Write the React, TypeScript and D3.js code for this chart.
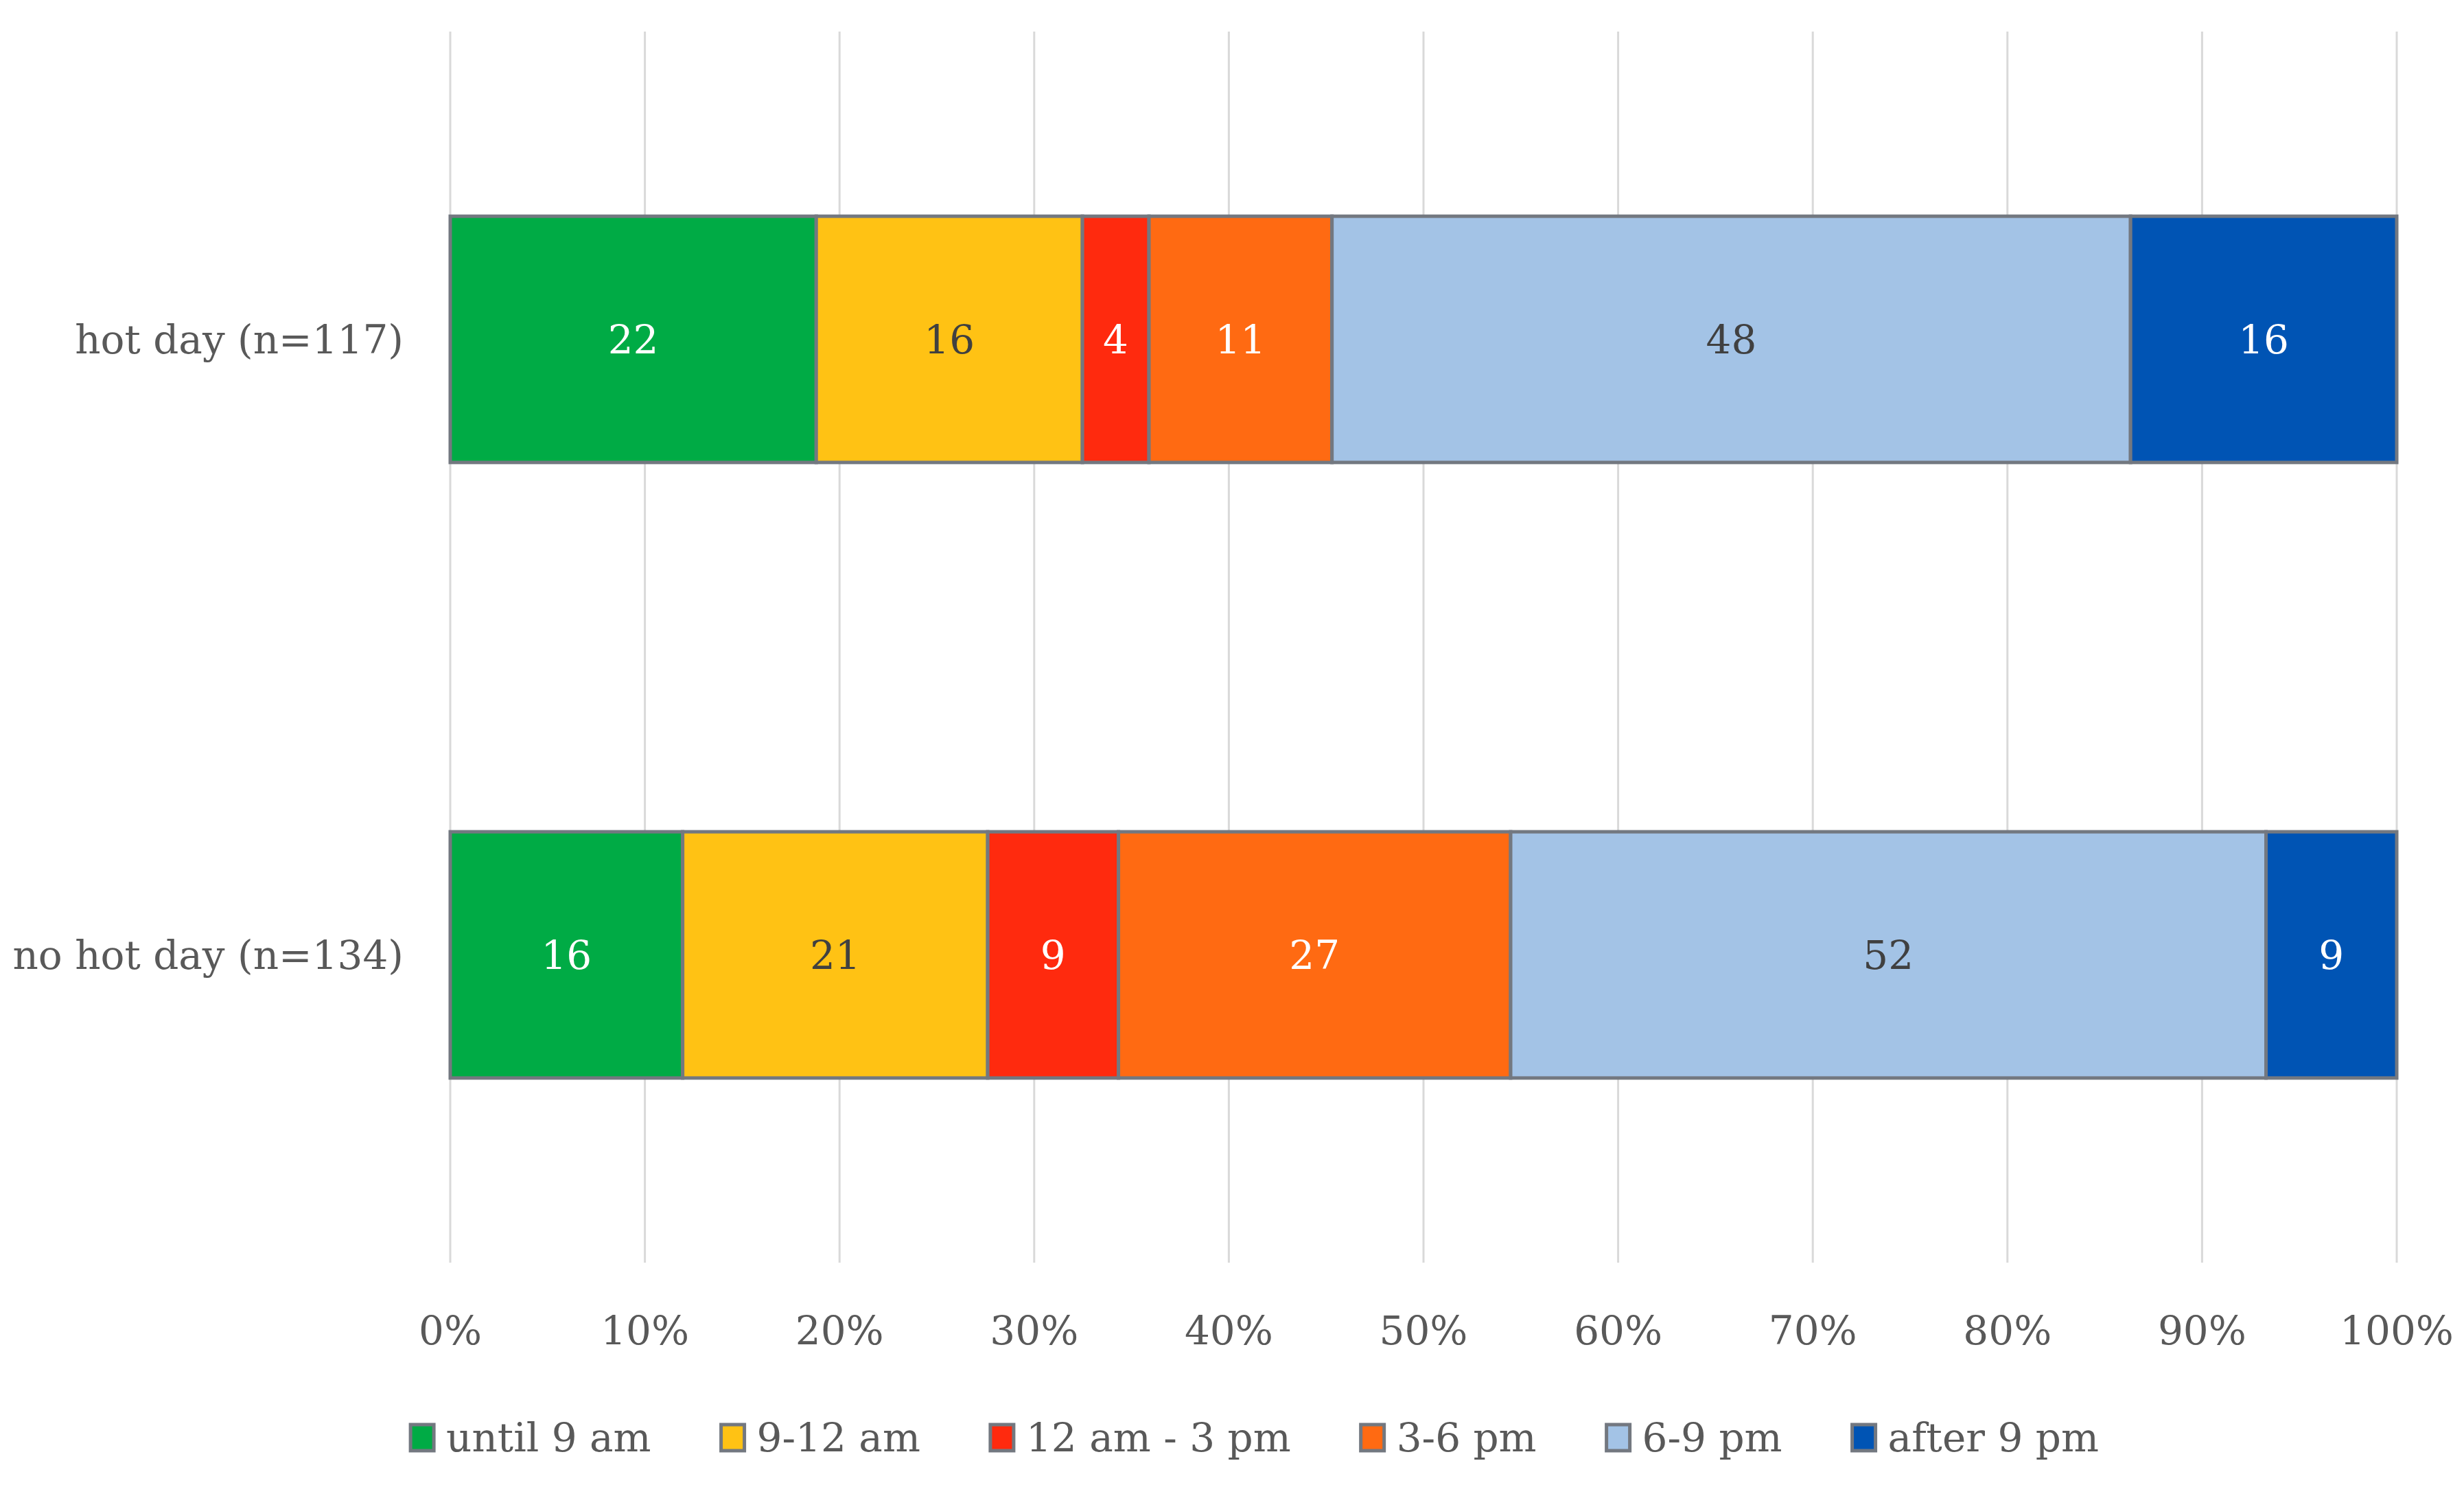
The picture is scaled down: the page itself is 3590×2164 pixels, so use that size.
import React, { useEffect, useMemo } from 'react';
import * as d3 from 'd3';

// categories (top to bottom) and the time-slot series
const categories = ['hot day (n=117)', 'no hot day (n=134)'];
const seriesNames = ['until 9 am', '9-12 am', '12 am - 3 pm', '3-6 pm', '6-9 pm', 'after 9 pm'];
const hotDay = [22, 16, 4, 11, 48, 16];
const noHotDay = [16, 21, 9, 27, 52, 9];
const seriesColors = ['#00AB45', '#FFC214', '#FF2A0E', '#FF6A12', '#A3C3E6', '#0054B4'];
const labelColors = ['#FFFFFF', '#404040', '#FFFFFF', '#FFFFFF', '#404040', '#FFFFFF'];
const xTicks = [0, 0.1, 0.2, 0.3, 0.4, 0.5, 0.6, 0.7, 0.8, 0.9, 1];

const WIDTH = 3590;
const HEIGHT = 2164;
const FONT = "'Palatino Linotype', 'Book Antiqua', Palatino, 'DejaVu Serif', serif";
const FONT_SIZE = 58;

const measure = (text: string): number => {
  const ctx = document.createElement('canvas').getContext('2d');
  if (!ctx) return text.length * FONT_SIZE * 0.55;
  ctx.font = `${FONT_SIZE}px ${FONT}`;
  return ctx.measureText(text).width;
};

const App: React.FC = () => {
  useEffect(() => {
    document.body.style.margin = '0';
  }, []);

  const margin = { top: 46, right: 98, bottom: 324, left: 656 };
  const innerW = WIDTH - margin.left - margin.right;
  const innerH = HEIGHT - margin.top - margin.bottom;

  const x = d3.scaleLinear().domain([0, 1]).range([0, innerW]);
  const y = d3.scaleBand<string>()
    .domain(categories)
    .range([0, innerH])
    .paddingInner(0.6)
    .paddingOuter(0.3);

  // stack the counts as shares of each row total
  const rows = [hotDay, noHotDay].map((vals, i) => {
    const total = d3.sum(vals);
    let acc = 0;
    return {
      cat: categories[i],
      segs: vals.map((v, j) => {
        const x0 = acc / total;
        acc += v;
        return { v, j, x0, x1: acc / total };
      }),
    };
  });

  const legend = useMemo(() => {
    const sw = 38;
    const gapText = 16;
    const gapItem = 100;
    const items = seriesNames.map((name) => ({ name, w: sw + gapText + measure(name) }));
    const total = d3.sum(items, (d) => d.w) + gapItem * (items.length - 1);
    let cx = 1827 - total / 2;
    return items.map((it) => {
      const pos = cx;
      cx += it.w + gapItem;
      return { ...it, x: pos };
    });
  }, []);

  return (
    <svg width={WIDTH} height={HEIGHT} style={{ display: 'block', background: '#fff' }}>
      <g transform={`translate(${margin.left},${margin.top})`}>
        {/* gridlines */}
        {xTicks.map((t) => (
          <line key={t} x1={x(t)} x2={x(t)} y1={0} y2={innerH} stroke="#D9D9D9" strokeWidth={3} />
        ))}

        {/* bars */}
        {rows.map((row) => (
          <g key={row.cat}>
            {row.segs.map((s) => (
              <rect
                key={s.j}
                x={x(s.x0)}
                y={y(row.cat)}
                width={x(s.x1) - x(s.x0)}
                height={y.bandwidth()}
                fill={seriesColors[s.j]}
                stroke="#737880"
                strokeWidth={5}
              />
            ))}
            {row.segs.map((s) => (
              <text
                key={`l${s.j}`}
                x={(x(s.x0) + x(s.x1)) / 2}
                y={(y(row.cat) ?? 0) + y.bandwidth() / 2}
                dy="0.35em"
                textAnchor="middle"
                fontFamily={FONT}
                fontSize={FONT_SIZE}
                fill={labelColors[s.j]}
              >
                {s.v}
              </text>
            ))}
          </g>
        ))}

        {/* category labels */}
        {categories.map((c) => (
          <text
            key={c}
            x={-68}
            y={(y(c) ?? 0) + y.bandwidth() / 2}
            dy="0.35em"
            textAnchor="end"
            fontFamily={FONT}
            fontSize={FONT_SIZE}
            fill="#595959"
          >
            {c}
          </text>
        ))}

        {/* x tick labels */}
        {xTicks.map((t) => (
          <text
            key={`t${t}`}
            x={x(t)}
            y={innerH + 99}
            dy="0.35em"
            textAnchor="middle"
            fontFamily={FONT}
            fontSize={FONT_SIZE}
            fill="#595959"
          >
            {d3.format('.0%')(t)}
          </text>
        ))}
      </g>

      {/* legend */}
      <g transform="translate(0,2095)">
        {legend.map((it, i) => (
          <g key={it.name} transform={`translate(${it.x},0)`}>
            <rect x={2} y={-19} width={34} height={38} fill={seriesColors[i]} stroke="#737880" strokeWidth={5} />
            <text
              x={38 + 16}
              y={0}
              dy="0.35em"
              fontFamily={FONT}
              fontSize={FONT_SIZE}
              fill="#595959"
            >
              {it.name}
            </text>
          </g>
        ))}
      </g>
    </svg>
  );
};

export default App;
